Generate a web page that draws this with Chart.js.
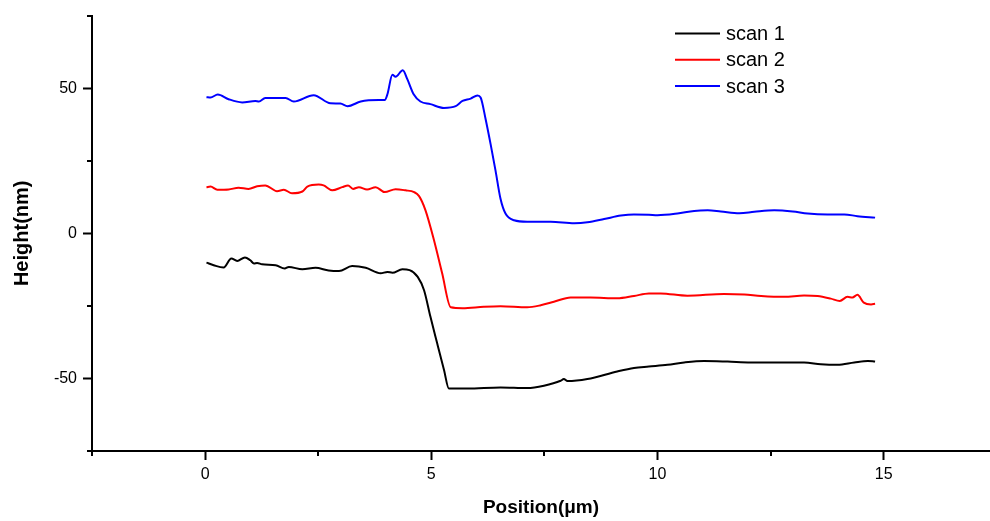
<!DOCTYPE html>
<html>
<head>
<meta charset="utf-8">
<script src="https://cdn.jsdelivr.net/npm/chart.js@4.4.1/dist/chart.umd.min.js"></script>
<style>
  html, body { margin: 0; padding: 0; background: #fff; }
  #wrap { width: 990px; height: 521px; position: relative; }
</style>
</head>
<body>
<div id="wrap"><canvas id="profileChart"></canvas></div>
<script>
// step height profiles, position in um, height in nm
const scan1Pos = [0.03, 0.19, 0.41, 0.58, 0.71, 0.88, 1.0, 1.08, 1.15, 1.26, 1.56, 1.76, 1.85, 2.15, 2.44, 2.73, 2.96, 3.25, 3.55, 3.88, 4.03, 4.14, 4.36, 4.52, 4.7, 4.84, 4.98, 5.13, 5.28, 5.39, 5.8, 6.53, 7.12, 7.49, 7.86, 7.93, 8.01, 8.45, 9.11, 9.48, 9.81, 10.22, 10.59, 11.03, 11.55, 12.06, 12.58, 13.24, 13.61, 13.98, 14.35, 14.65, 14.81];
const scan1Height = [-10.1, -11.0, -11.8, -8.7, -9.5, -8.3, -9.3, -10.4, -10.2, -10.7, -11.0, -12.1, -11.6, -12.4, -11.9, -12.8, -13.0, -11.3, -11.9, -13.8, -13.3, -13.6, -12.4, -12.7, -15.0, -19.6, -28.7, -37.9, -47.0, -53.5, -53.5, -53.1, -53.3, -52.5, -50.8, -50.2, -50.9, -50.2, -47.6, -46.4, -45.9, -45.3, -44.5, -44.0, -44.2, -44.5, -44.5, -44.5, -45.1, -45.3, -44.5, -44.0, -44.2];

const scan2Pos = [0.03, 0.12, 0.27, 0.52, 0.74, 0.96, 1.15, 1.33, 1.59, 1.74, 1.92, 2.15, 2.26, 2.51, 2.62, 2.81, 3.03, 3.16, 3.27, 3.4, 3.58, 3.77, 3.97, 4.21, 4.43, 4.62, 4.73, 4.87, 5.06, 5.24, 5.43, 5.69, 6.16, 6.53, 7.12, 7.42, 7.71, 8.08, 8.52, 9.11, 9.48, 9.81, 10.07, 10.66, 11.47, 11.92, 12.29, 12.8, 13.24, 13.54, 13.83, 14.03, 14.2, 14.31, 14.42, 14.56, 14.72, 14.81];
const scan2Height = [15.9, 16.1, 15.0, 15.1, 15.7, 15.3, 16.2, 16.5, 14.5, 15.0, 13.8, 14.4, 16.1, 16.8, 16.5, 14.8, 15.9, 16.5, 15.3, 15.9, 15.1, 15.9, 14.2, 15.2, 14.8, 14.2, 12.8, 8.0, -2.4, -13.8, -25.5, -25.8, -25.3, -25.1, -25.5, -24.8, -23.6, -22.1, -22.1, -22.4, -21.6, -20.7, -20.7, -21.5, -20.9, -21.1, -21.6, -21.9, -21.4, -21.6, -22.5, -23.3, -21.9, -22.1, -21.2, -23.9, -24.5, -24.3];

const scan3Pos = [0.03, 0.12, 0.28, 0.52, 0.82, 1.11, 1.19, 1.33, 1.78, 1.96, 2.4, 2.77, 2.99, 3.15, 3.44, 3.84, 3.97, 4.03, 4.14, 4.21, 4.37, 4.47, 4.61, 4.76, 4.98, 5.28, 5.54, 5.69, 5.87, 6.02, 6.09, 6.2, 6.31, 6.42, 6.53, 6.64, 6.83, 7.12, 7.64, 8.16, 8.45, 8.82, 9.19, 9.48, 9.81, 10.0, 10.44, 10.81, 11.11, 11.4, 11.81, 12.14, 12.58, 12.99, 13.32, 13.76, 14.13, 14.42, 14.81];
const scan3Height = [46.9, 46.8, 47.8, 46.2, 45.1, 45.6, 45.4, 46.6, 46.6, 45.4, 47.6, 44.8, 44.7, 43.8, 45.4, 45.9, 45.9, 47.9, 54.6, 53.9, 56.2, 53.1, 47.9, 45.4, 44.5, 43.2, 43.8, 45.6, 46.4, 47.5, 46.8, 39.4, 30.8, 21.6, 11.9, 6.8, 4.5, 4.0, 4.0, 3.5, 3.8, 4.9, 6.1, 6.5, 6.4, 6.2, 6.8, 7.7, 7.9, 7.5, 6.9, 7.4, 7.9, 7.5, 6.8, 6.5, 6.5, 5.9, 5.4];

const scanLabels = ['scan 1', 'scan 2', 'scan 3'];
const scanColors = ['#000000', '#ff0000', '#0000ff'];

const xTickLabels = [0, 5, 10, 15];
const yTickLabels = [-50, 0, 50];

const FONT = "'Liberation Sans', Arial, sans-serif";

function toPoints(xs, ys) {
    return xs.map((x, i) => ({ x: x, y: ys[i] }));
}

function isLabelled(list, v) {
    return list.some(l => Math.abs(l - v) < 1e-6);
}

const series = [
    toPoints(scan1Pos, scan1Height),
    toPoints(scan2Pos, scan2Height),
    toPoints(scan3Pos, scan3Height)
];

// short outward ticks between the labelled ones (the long ones come from the grid)
const minorTicks = {
    id: 'minorTicks',
    afterDraw(chart) {
        const ctx = chart.ctx;
        const xs = chart.scales.x;
        const ys = chart.scales.y;
        const area = chart.chartArea;
        ctx.save();
        ctx.strokeStyle = '#000';
        ctx.lineWidth = 2;
        ctx.beginPath();
        xs.ticks.forEach(t => {
            if (isLabelled(xTickLabels, t.value)) return;
            const px = Math.round(xs.getPixelForValue(t.value));
            ctx.moveTo(px, area.bottom);
            ctx.lineTo(px, area.bottom + 5);
        });
        ys.ticks.forEach(t => {
            if (isLabelled(yTickLabels, t.value)) return;
            const py = Math.round(ys.getPixelForValue(t.value));
            ctx.moveTo(area.left, py);
            ctx.lineTo(area.left - 5, py);
        });
        ctx.stroke();
        ctx.restore();
    }
};

// legend box in the upper right
const lineLegend = {
    id: 'lineLegend',
    afterDraw(chart) {
        const ctx = chart.ctx;
        ctx.save();
        ctx.font = '20px ' + FONT;
        ctx.textBaseline = 'middle';
        ctx.fillStyle = '#000';
        chart.data.datasets.forEach((ds, i) => {
            const y = 33.5 + i * 26.3;
            ctx.strokeStyle = ds.borderColor;
            ctx.lineWidth = 2;
            ctx.beginPath();
            ctx.moveTo(675, y);
            ctx.lineTo(720, y);
            ctx.stroke();
            ctx.fillText(ds.label, 726, y + 1);
        });
        ctx.restore();
    }
};

function majorTickColor(list) {
    return c => (c.tick && isLabelled(list, c.tick.value)) ? '#000' : 'rgba(0,0,0,0)';
}

const ctx = document.getElementById('profileChart').getContext('2d');
new Chart(ctx, {
    type: 'scatter',
    data: {
        datasets: series.map((pts, i) => ({
            label: scanLabels[i],
            data: pts,
            showLine: true,
            borderColor: scanColors[i],
            backgroundColor: scanColors[i],
            borderWidth: 2,
            pointRadius: 0,
            pointHoverRadius: 0,
            cubicInterpolationMode: 'monotone'
        }))
    },
    options: {
        responsive: true,
        maintainAspectRatio: false,
        animation: false,
        layout: { padding: { top: 14, right: 0, bottom: 0, left: 0 } },
        plugins: {
            legend: { display: false },
            tooltip: { enabled: false }
        },
        scales: {
            x: {
                type: 'linear',
                min: -2.5,
                max: 17.35,
                afterFit(scale) { scale.height = 70; },
                border: { display: true, color: '#000', width: 2 },
                grid: {
                    drawOnChartArea: false,
                    drawTicks: true,
                    tickLength: 9,
                    tickWidth: 2,
                    tickColor: majorTickColor(xTickLabels)
                },
                ticks: {
                    stepSize: 2.5,
                    includeBounds: false,
                    maxRotation: 0,
                    autoSkip: false,
                    padding: 5,
                    color: '#000',
                    font: { family: FONT, size: 16 },
                    callback: v => isLabelled(xTickLabels, v) ? String(v) : ''
                },
                title: {
                    display: true,
                    text: 'Position(\u03bcm)',
                    color: '#000',
                    font: { family: FONT, size: 19, weight: 'bold' },
                    padding: { top: 0, bottom: 2 }
                }
            },
            y: {
                type: 'linear',
                min: -75,
                max: 75,
                afterFit(scale) { scale.width = 92; },
                border: { display: true, color: '#000', width: 2 },
                grid: {
                    drawOnChartArea: false,
                    drawTicks: true,
                    tickLength: 9,
                    tickWidth: 2,
                    tickColor: majorTickColor(yTickLabels)
                },
                ticks: {
                    stepSize: 25,
                    autoSkip: false,
                    padding: 6,
                    color: '#000',
                    font: { family: FONT, size: 16 },
                    callback: v => isLabelled(yTickLabels, v) ? String(v) : ''
                },
                title: {
                    display: true,
                    text: 'Height(nm)',
                    color: '#000',
                    font: { family: FONT, size: 20, weight: 'bold' },
                    padding: { top: 10, bottom: 0 }
                }
            }
        }
    },
    plugins: [minorTicks, lineLegend]
});
</script>
</body>
</html>
